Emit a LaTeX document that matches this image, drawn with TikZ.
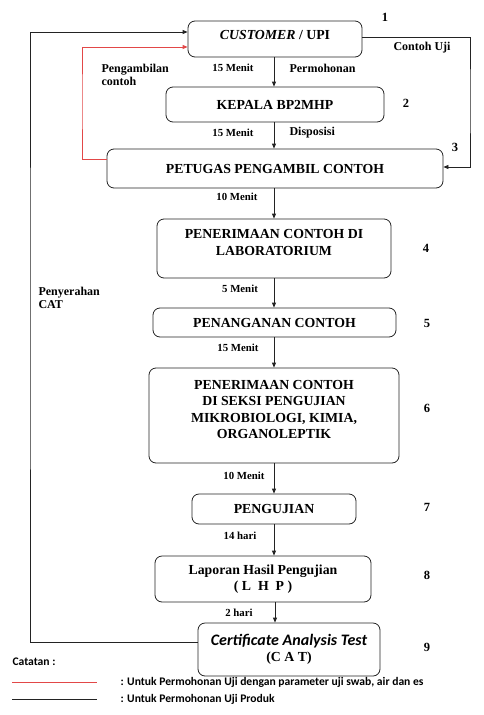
\documentclass[tikz,border=0pt]{standalone}
\usepackage{fontspec}
\setmainfont{Liberation Serif}
\newfontfamily\calibri{Carlito}
\usetikzlibrary{arrows.meta, calc}
\definecolor{garis}{RGB}{35, 35, 35}
\definecolor{garismerah}{RGB}{226, 72, 72}

\begin{document}
\begin{tikzpicture}[
    x=1pt, y=-1pt,
    kotak/.style={rectangle, rounded corners=7pt, draw=garis, line width=0.8pt,
                  align=center, inner sep=2pt, font=\fontsize{13.8}{16.5}\selectfont\bfseries},
    panah/.style={-{Triangle[length=5pt, width=4pt]}, line width=0.8pt, garis},
    waktu/.style={font=\fontsize{10.8}{13}\selectfont\bfseries},
    ket/.style={font=\fontsize{12}{13.5}\selectfont\bfseries},
    nomor/.style={font=\fontsize{12.5}{14}\selectfont\bfseries},
    catatan/.style={anchor=west, font=\calibri\fontsize{11.6}{14}\selectfont\bfseries}
]
\useasboundingbox (0,0) rectangle (484,715);

% kotak alur
\node[kotak, minimum width=174pt, minimum height=36pt] (cust) at (275,39) {\textit{CUSTOMER} / UPI\\[-8pt]\mbox{}};
\node[kotak, minimum width=218pt, minimum height=35pt] (kepala) at (275,104.5) {KEPALA BP2MHP};
\node[kotak, minimum width=336pt, minimum height=39pt] (petugas) at (275,168.5) {PETUGAS PENGAMBIL CONTOH};
\node[kotak, minimum width=234pt, minimum height=59pt] (lab) at (274,248.5) {PENERIMAAN CONTOH DI\\LABORATORIUM\\[-4.5pt]\mbox{}};
\node[kotak, minimum width=243pt, minimum height=29pt] (penanganan) at (274.5,322.5) {PENANGANAN CONTOH};
\node[kotak, minimum width=250pt, minimum height=95pt] (seksi) at (274,415.5) {PENERIMAAN CONTOH\\DI SEKSI PENGUJIAN\\MIKROBIOLOGI, KIMIA,\\ORGANOLEPTIK\\[-4pt]\mbox{}};
\node[kotak, minimum width=164pt, minimum height=30pt] (uji) at (274,509) {PENGUJIAN};
\node[kotak, minimum width=216pt, minimum height=46pt] (lhp) at (263,579) {Laporan Hasil Pengujian\\( L\ \ H\ \ P )};
\node[kotak, minimum width=182pt, minimum height=53pt] (cat) at (289,649.5) {{\calibri\fontsize{16}{18}\selectfont\itshape Certificate Analysis Test}\\(C A T)};

% nomor langkah
\node[nomor] at (385,17) {1};
\node[nomor] at (406,103) {2};
\node[nomor] at (455,147) {3};
\node[nomor] at (426,248) {4};
\node[nomor] at (427,323) {5};
\node[nomor] at (427,408) {6};
\node[nomor] at (427,507) {7};
\node[nomor] at (427,575) {8};
\node[nomor] at (427,647) {9};

% garis alur utama
\coordinate (sp) at (274,0);
\draw[panah] (cust.south -| sp) -- (kepala.north -| sp);
\draw[panah] (kepala.south -| sp) -- (petugas.north -| sp);
\draw[panah] (petugas.south -| sp) -- (lab.north -| sp);
\draw[panah] (lab.south -| sp) -- (penanganan.north -| sp);
\draw[panah] (penanganan.south -| sp) -- (seksi.north -| sp);
\draw[panah] (seksi.south -| sp) -- (uji.north -| sp);
\draw[panah] (uji.south -| sp) -- (lhp.north -| sp);
\coordinate (sp2) at (275,0);
\draw[panah] (lhp.south -| sp2) -- (cat.north -| sp2);

% garis samping
\coordinate (kanan) at (470,100);
\coordinate (merah) at (82,100);
\coordinate (kiri) at (30,300);
\draw[panah] ([yshift=2pt]cust.east) -| (kanan) |- ([yshift=1.5pt]petugas.east);
\draw[panah, garismerah] ([yshift=9.5pt]petugas.west) -| (merah) |- ([yshift=-8pt]cust.west);
\draw[panah] ([yshift=7.5pt]cat.west) -| (kiri) |- ([yshift=7pt]cust.west);

% keterangan
\node[ket] at (422,48) {Contoh Uji};
\node[ket, anchor=west, align=left] at (98,75) {Pengambilan\\contoh};
\node[waktu] at (233,68) {15 Menit};
\node[ket, anchor=west] at (286,68) {Permohonan};
\node[waktu] at (233,133) {15 Menit};
\node[ket, anchor=west] at (286,133) {Disposisi};
\node[waktu] at (237,197) {10 Menit};
\node[waktu] at (240,289) {5 Menit};
\node[waktu] at (238,348) {15 Menit};
\node[waktu] at (244,476) {10 Menit};
\node[waktu] at (240,536) {14 hari};
\node[waktu] at (239,613) {2 hari};
\node[ket, anchor=west, align=left] at (35,298) {Penyerahan\\CAT};

% catatan
\node[catatan] at (9,662) {Catatan :};
\draw[garismerah, line width=0.8pt] (12,682) -- (97,682);
\draw[garis, line width=0.8pt] (12,699) -- (97,699);
\node[catatan] at (117,682) {: Untuk Permohonan Uji dengan parameter uji swab, air dan es};
\node[catatan] at (117,699) {: Untuk Permohonan Uji Produk};
\end{tikzpicture}
\end{document}
